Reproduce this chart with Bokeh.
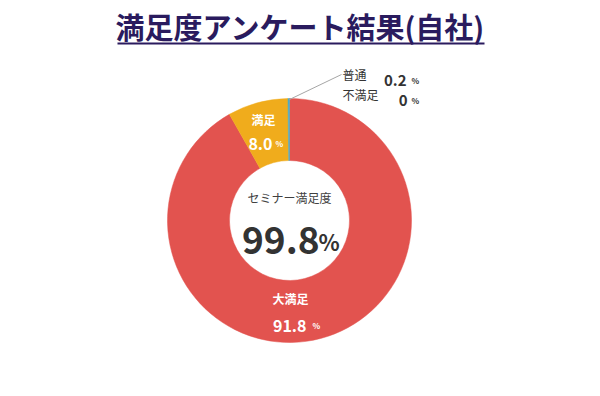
import math
from bokeh.plotting import figure
from bokeh.models import Range1d, ColumnDataSource
from bokeh.core.properties import value
from bokeh.embed import file_html
from bokeh.resources import INLINE

# ---- data ----
categories = ["大満足", "満足", "普通", "不満足"]
percents = [91.8, 8.0, 0.2, 0.0]
colors = ["#E2534F", "#F0AC1C", "#4BACC6", "#7F7F7F"]
center_label = "セミナー満足度"
center_value = "99.8"
title_text = "満足度アンケート結果(自社)"

W, H = 584, 380
FONT = "Noto Sans CJK JP"

def sx(x):
    return x

def sy(y):
    return H - y

p = figure(width=W, height=H, output_backend="svg", toolbar_location=None,
           x_range=Range1d(0, W), y_range=Range1d(0, H), min_border=0)
p.axis.visible = False
p.grid.visible = False
p.outline_line_color = None
p.background_fill_color = "white"

# ---- donut (zero-size slices skipped: start == end would draw a full ring) ----
total = sum(percents)
starts, ends, cols, cats = [], [], [], []
cum = 0.0
for v, c, k in zip(percents, colors, categories):
    a0 = math.pi / 2 - 2 * math.pi * cum / total
    cum += v
    a1 = math.pi / 2 - 2 * math.pi * cum / total
    if v > 0:
        starts.append(a0)
        ends.append(a1)
        cols.append(c)
        cats.append(k)
src = ColumnDataSource(dict(start=starts, end=ends, color=cols, cat=cats))
cx, cy = sx(289), sy(220)
p.annular_wedge(x=cx, y=cy, inner_radius=60, outer_radius=122,
                start_angle="start", end_angle="end", direction="clock",
                fill_color="color", line_color="color", line_width=0.5, source=src)

def txt(x, y, s, size, color, align="center", baseline="middle", bold=True, font=FONT):
    p.text(x=[sx(x)], y=[sy(y)], text=[s], text_font=value(font),
           text_font_size=f"{size}px", text_color=color, text_align=align,
           text_baseline=baseline, text_font_style="bold" if bold else "normal")

# ---- title ----
txt(300, 25, title_text, 29, "#2A1B5E", bold=True)
p.line(x=[sx(117), sx(484)], y=[sy(43), sy(43)], line_color="#2A1B5E", line_width=2)

# ---- center ----
txt(289, 197, center_label, 12, "#404040", bold=False)
txt(319, 240, center_value, 37, "#333333", align="right", baseline="alphabetic")
txt(318, 240, "%", 22, "#333333", align="left", baseline="alphabetic")

# ---- slice labels ----
txt(263, 119, categories[1], 12, "white")
txt(272, 143, f"{percents[1]:.1f}", 16, "white", align="right", baseline="alphabetic")
txt(275, 143, "%", 8, "white", align="left", baseline="alphabetic")

txt(290, 298, categories[0], 12, "white")
txt(306, 325, f"{percents[0]:.1f}", 16, "white", align="right", baseline="alphabetic")
txt(312, 325, "%", 8, "white", align="left", baseline="alphabetic")

# ---- leader labels ----
p.line(x=[sx(289), sx(341)], y=[sy(99), sy(74)], line_color="#A6A6A6", line_width=1)
txt(342, 74, categories[2], 12, "#333333", align="left", bold=False)
txt(406, 80, f"{percents[2]:.1f}", 15, "#333333", align="right", baseline="alphabetic")
txt(411, 80, "%", 8, "#333333", align="left", baseline="alphabetic")
txt(342, 94, categories[3], 12, "#333333", align="left", bold=False)
txt(407, 100, f"{percents[3]:.0f}", 15, "#333333", align="right", baseline="alphabetic")
txt(411, 100, "%", 8, "#333333", align="left", baseline="alphabetic")

open("out.html", "w").write(file_html(p, INLINE))
